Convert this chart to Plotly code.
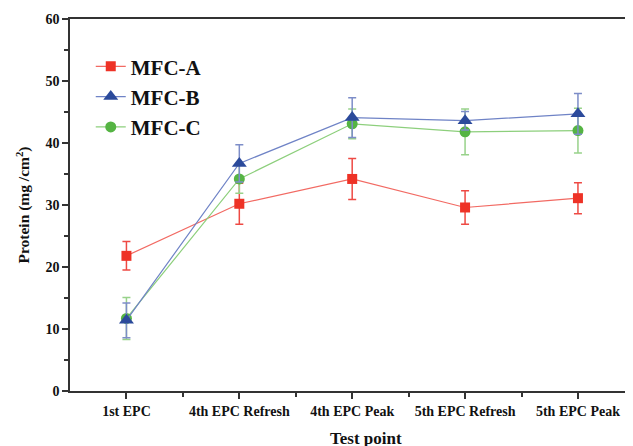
import plotly.graph_objects as go

categories = ["1st EPC", "4th EPC Refresh", "4th EPC Peak", "5th EPC Refresh", "5th EPC Peak"]
mfc_a = [21.8, 30.2, 34.2, 29.6, 31.1]
mfc_a_err = [2.3, 3.3, 3.3, 2.7, 2.5]
mfc_b = [11.4, 36.7, 44.1, 43.6, 44.7]
mfc_b_err = [2.8, 3.0, 3.2, 1.5, 3.3]
mfc_c = [11.7, 34.2, 43.1, 41.8, 42.0]
mfc_c_err = [3.4, 2.3, 2.4, 3.7, 3.6]
y_ticks = [0, 10, 20, 30, 40, 50, 60]

xpos = list(range(len(categories)))
FONT = "Liberation Serif, Times New Roman, serif"

series = [
    ("MFC-A", mfc_a, mfc_a_err, "#EE3226", "#F26A63", "#EE4A44", "square", 10, 1),
    ("MFC-C", mfc_c, mfc_c_err, "#55B443", "#8DCF7C", "#98D28A", "circle", 11, 3),
    ("MFC-B", mfc_b, mfc_b_err, "#2B4A9B", "#6F83C6", "#7D8DC8", "triangle-up", 13, 2),
]

fig = go.Figure()
for name, vals, errs, mcol, lcol, ecol, sym, size, rank in series:
    fig.add_trace(go.Scatter(
        x=xpos, y=vals, name=name, mode="lines+markers", legendrank=rank,
        line=dict(color=lcol, width=1.2),
        marker=dict(symbol=sym, size=size, color=mcol, line=dict(width=0)),
        error_y=dict(type="data", array=errs, visible=True, color=ecol, thickness=1.5, width=4),
    ))

# page body has an 8px margin; figure sized so the plot lands where the reference has it
fig.update_layout(
    width=625, height=438,
    margin=dict(l=62, r=0, t=11, b=55),
    plot_bgcolor="white", paper_bgcolor="white",
    font=dict(family=FONT, color="#111"),
    legend=dict(x=0.037, y=0.927, xanchor="left", yanchor="top",
                font=dict(size=21, family=FONT, weight="bold"),
                bgcolor="rgba(0,0,0,0)", itemwidth=30, tracegroupgap=0),
    showlegend=True,
)
fig.update_xaxes(
    range=[-0.5, 4.47], tickvals=xpos, ticktext=categories,
    tickfont=dict(size=14, family=FONT, weight="bold"),
    ticks="outside", ticklen=6, tickwidth=1.5, tickcolor="#333",
    showline=True, linecolor="#333", linewidth=1.5, mirror=True,
    showgrid=False, zeroline=False,
    minor=dict(tickvals=[0.5, 1.5, 2.5, 3.5], ticks="outside", ticklen=4, tickcolor="#333", tickwidth=1.5),
)
fig.update_yaxes(
    range=[0, 60], tickvals=y_ticks,
    tickfont=dict(size=14, family=FONT, weight="bold"),
    ticks="outside", ticklen=6, tickwidth=1.5, tickcolor="#333",
    showline=True, linecolor="#333", linewidth=1.5, mirror=True,
    showgrid=False, zeroline=False,
    minor=dict(dtick=5, ticks="outside", ticklen=4, tickcolor="#333", tickwidth=1.5),
    title=dict(text="Protein (mg /cm<sup>2</sup>)", font=dict(size=15.5, family=FONT, weight="bold"), standoff=12),
)
fig.add_annotation(
    text="Test point", xref="paper", yref="paper", x=(367 - 70) / 563, y=-0.128,
    xanchor="center", yanchor="middle", showarrow=False,
    font=dict(size=17, family=FONT, weight="bold", color="#111"),
)

fig.write_html("out.html")
